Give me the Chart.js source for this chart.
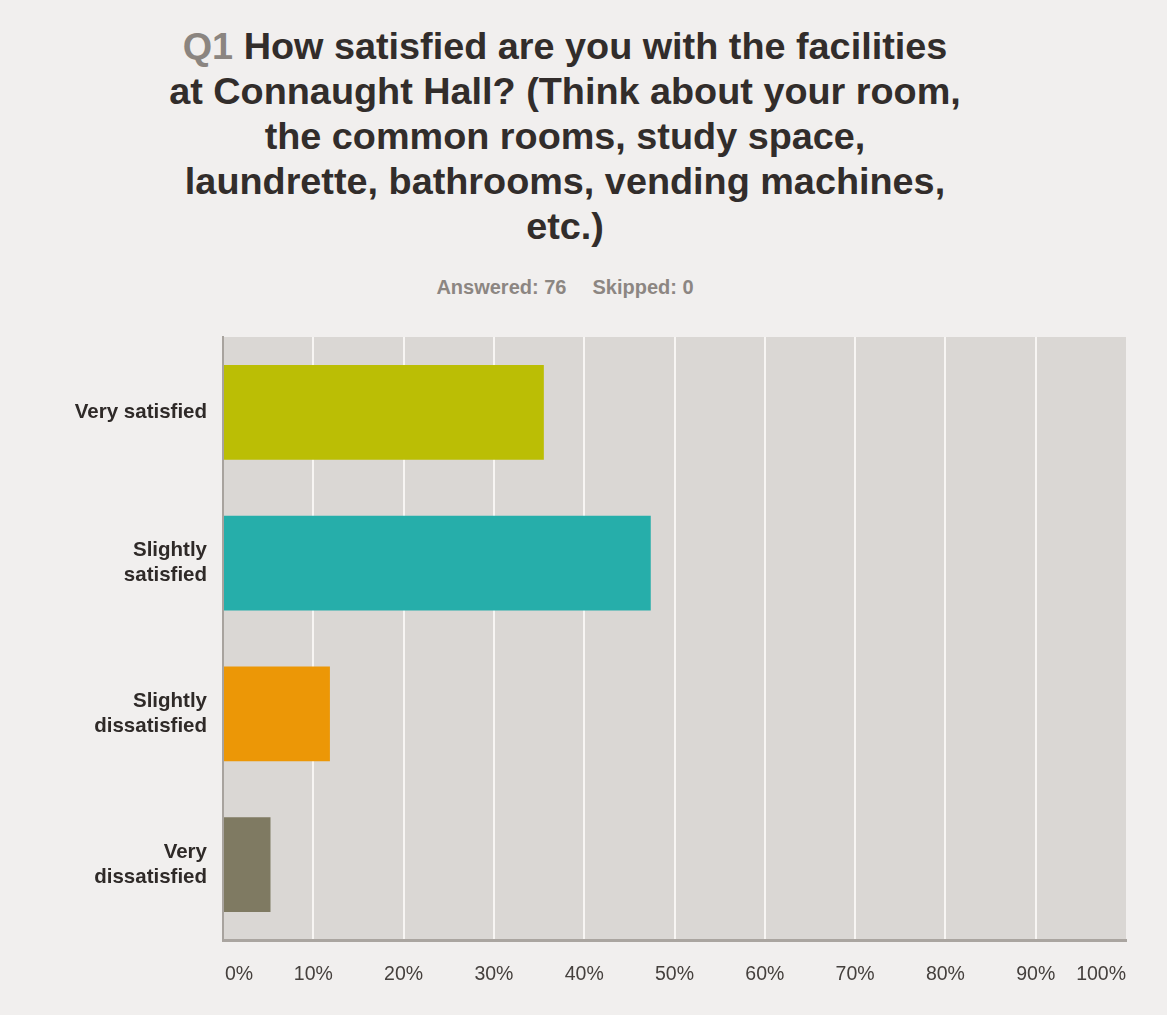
<!DOCTYPE html>
<html>
<head>
<meta charset="utf-8">
<script src="https://cdn.jsdelivr.net/npm/chart.js@4.4.1/dist/chart.umd.min.js"></script>
<style>
  html, body { margin: 0; padding: 0; background: #f1efee; }
  body { width: 1167px; height: 1015px; position: relative; overflow: hidden; font-family: "Liberation Sans", Arial, sans-serif; }
  #title { position: absolute; left: 115px; width: 900px; top: 24px; text-align: center; font-weight: bold; font-size: 37.8px; line-height: 45px; color: #322d2b; }
  #title .q { color: #8b8580; }
  #sub { position: absolute; left: 315px; width: 500px; top: 276px; text-align: center; font-weight: bold; font-size: 20px; color: #8c8682; }
  #sub span + span { margin-left: 26px; }
  #wrap { position: absolute; left: 0; top: 0; width: 1167px; height: 1015px; }
</style>
</head>
<body>
<div id="title"><span class="q">Q1</span> How satisfied are you with the facilities<br>at Connaught Hall? (Think about your room,<br>the common rooms, study space,<br>laundrette, bathrooms, vending machines,<br>etc.)</div>
<div id="sub"><span>Answered: 76</span><span>Skipped: 0</span></div>
<div id="wrap"><canvas id="c" width="1167" height="1015"></canvas></div>
<script>
const categories = [["Very satisfied"], ["Slightly", "satisfied"], ["Slightly", "dissatisfied"], ["Very", "dissatisfied"]];
const percentages = [35.53, 47.37, 11.84, 5.26];
const barColors = ["#bbbe05", "#26aeaa", "#ec9706", "#7f7a62"];
const xTickValues = [0, 10, 20, 30, 40, 50, 60, 70, 80, 90, 100];
const xTickLabels = ["0%", "10%", "20%", "30%", "40%", "50%", "60%", "70%", "80%", "90%", "100%"];

const bgPlugin = {
  id: 'plotBg',
  beforeDraw(chart) {
    const { ctx, chartArea: a } = chart;
    ctx.save();
    ctx.fillStyle = '#dad7d4';
    ctx.fillRect(a.left, a.top, a.right - a.left, a.bottom - a.top);
    ctx.restore();
  }
};

const xLabelPlugin = {
  id: 'xLabels',
  afterDraw(chart) {
    const { ctx } = chart;
    const xs = chart.scales.x;
    ctx.save();
    ctx.font = '19.5px "Liberation Sans", Arial, sans-serif';
    ctx.fillStyle = '#45403d';
    ctx.textBaseline = 'middle';
    const y = chart.chartArea.bottom + 35;
    xTickValues.forEach((v, i) => {
      const px = xs.getPixelForValue(v);
      if (i === 0) { ctx.textAlign = 'left'; ctx.fillText(xTickLabels[i], px + 2, y); }
      else if (i === xTickValues.length - 1) { ctx.textAlign = 'right'; ctx.fillText(xTickLabels[i], px, y); }
      else { ctx.textAlign = 'center'; ctx.fillText(xTickLabels[i], px, y); }
    });
    ctx.restore();
  }
};

new Chart(document.getElementById('c'), {
  type: 'bar',
  data: {
    labels: categories,
    datasets: [{
      data: percentages,
      backgroundColor: barColors,
      borderWidth: 0,
      barPercentage: 0.63,
      categoryPercentage: 1.0
    }]
  },
  options: {
    indexAxis: 'y',
    responsive: false,
    animation: false,
    devicePixelRatio: 1,
    layout: { padding: { top: 337, bottom: 75, right: 41, left: 0 } },
    plugins: { legend: { display: false }, tooltip: { enabled: false }, title: { display: false } },
    scales: {
      x: {
        min: 0, max: 100,
        ticks: { display: false, stepSize: 10 },
        grid: {
          drawTicks: false,
          lineWidth: 2,
          color: (c) => (c.tick && (c.tick.value === 0 || c.tick.value === 100)) ? 'rgba(0,0,0,0)' : '#f7f5f3'
        },
        border: { display: true, color: '#aaa5a0', width: 3 }
      },
      y: {
        afterFit(scale) { scale.width = 223; },
        ticks: {
          padding: 16,
          color: '#2f2a28',
          font: { family: '"Liberation Sans", Arial, sans-serif', size: 20.5, weight: 'bold', lineHeight: 1.22 }
        },
        grid: { display: false, drawTicks: false },
        border: { display: true, color: '#a8a39e', width: 2 }
      }
    }
  },
  plugins: [bgPlugin, xLabelPlugin]
});
</script>
</body>
</html>
